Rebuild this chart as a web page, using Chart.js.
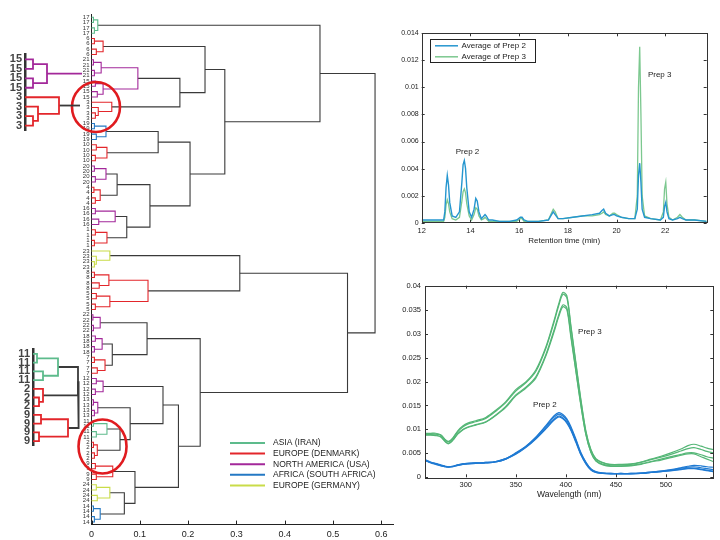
<!DOCTYPE html>
<html><head><meta charset="utf-8">
<script src="https://cdn.jsdelivr.net/npm/chart.js@4.4.1/dist/chart.umd.min.js"></script>
<style>
html,body{margin:0;padding:0;background:#fff;width:720px;height:540px;overflow:hidden}
body{position:relative}
canvas{position:absolute}
</style></head><body>
<canvas id="dendro" width="400" height="540" style="left:0px;top:0px"></canvas>
<canvas id="inset1" width="100" height="95" style="left:0px;top:45px"></canvas>
<canvas id="inset2" width="110" height="115" style="left:0px;top:340px"></canvas>
<canvas id="chrom" width="350" height="260" style="left:370px;top:0px"></canvas>
<canvas id="spec" width="350" height="270" style="left:370px;top:270px"></canvas>
<script>
// ---------------- DATA ----------------
const regionNames = ['ASIA (IRAN)','EUROPE (DENMARK)','NORTH AMERICA (USA)','AFRICA (SOUTH AFRICA)','EUROPE (GERMANY)'];
const regionColors = ['#5dbb8c','#e3262b','#a3289a','#2479c4','#c9dc48'];

// main dendrogram: sample groups top to bottom
const leafGroups  = ['17','6','21','15','3','19','10','20','4','16','1','23','8','5','22','18','7','12','13','11','2','9','24','14'];
const groupSizes  = [4,4,4,4,4,4,4,4,4,4,4,4,4,4,4,4,4,4,4,4,4,4,4,4];
const groupRegion = [0,1,2,2,1,3,1,2,1,2,1,4,1,1,2,2,1,2,2,0,1,1,4,3];
const groupShape  = ['P','P','P','P','C','P','P','P','P','P','P','C','P','P','P','P','P','P','P','P','P','P','P','P'];
const groupHeights = [
  [0.004,0.006,0.013],[0.006,0.010,0.024],[0.004,0.006,0.020],[0.008,0.012,0.024],
  [0.008,0.014,0.042],[0.006,0.010,0.030],[0.010,0.008,0.032],[0.006,0.008,0.030],
  [0.005,0.008,0.018],[0.008,0.015,0.049],[0.008,0.006,0.032],[0.006,0.010,0.038],
  [0.006,0.016,0.036],[0.010,0.008,0.038],[0.003,0.004,0.018],[0.008,0.006,0.022],
  [0.006,0.012,0.028],[0.010,0.008,0.024],[0.004,0.006,0.013],[0.004,0.010,0.032],
  [0.004,0.006,0.012],[0.008,0.010,0.044],[0.010,0.012,0.038],[0.004,0.006,0.018]
];
// higher-level merges: [child A, child B, height]; gN = group N, nN = merge N
const upperMerges = [
  ['g2','g3',0.096],  // n0
  ['n0','g4',0.183],  // n1
  ['g1','n1',0.235],  // n2
  ['g5','g6',0.138],  // n3
  ['g7','g8',0.053],  // n4
  ['g9','g10',0.073], // n5
  ['n4','n5',0.121],  // n6
  ['n3','n6',0.204],  // n7
  ['n2','n7',0.276],  // n8
  ['g0','n8',0.473],  // n9
  ['g12','g13',0.117],// n10
  ['g11','n10',0.307],// n11
  ['g15','g16',0.043],// n12
  ['g14','n12',0.115],// n13
  ['g19','g20',0.059],// n14
  ['g18','n14',0.080],// n15
  ['g22','g23',0.068],// n16
  ['g21','n16',0.090],// n17
  ['g17','n15',0.148],// n18
  ['n18','n17',0.180],// n19
  ['n13','n19',0.225],// n20
  ['n11','n20',0.530],// n21
  ['n9','n21',0.587]  // n22 root
];
const dendroXTicks = [0,0.1,0.2,0.3,0.4,0.5,0.6];

// inset 1 (groups 15 and 3)
const in1Groups = ['15','3'];
const in1Sizes = [4,4];
const in1Region = [2,1];
const in1Shape = ['P','C'];
const in1Heights = [[8,8,22],[8,13,34]];
const in1Stubs = [['g0',57,2],['g1',55,null]];
// inset 2 (groups 11, 2 and 9)
const in2Groups = ['11','2','9'];
const in2Sizes = [4,3,4];
const in2Region = [0,1,1];
const in2Shape = ['P','T','P'];
const in2Heights = [[4,10,25],[6,0,10],[8,6,35]];
const in2Upper = [['g0','g1',45],['n0','g2',45.6]];

// chromatogram
const rtTime = [12.0,12.5,12.9,12.95,13.0,13.05,13.1,13.15,13.25,13.4,13.55,13.65,13.7,13.75,13.8,13.85,13.95,14.05,14.15,14.22,14.28,14.35,14.45,14.55,14.6,14.65,14.75,14.9,15.2,15.6,15.9,16.05,16.12,16.2,16.35,16.8,17.2,17.3,17.4,17.48,17.6,17.8,18.2,18.6,19.0,19.3,19.4,19.47,19.55,19.7,19.85,19.92,20.0,20.2,20.5,20.75,20.85,20.9,20.95,21.0,21.05,21.15,21.4,21.8,21.92,21.97,22.02,22.07,22.15,22.3,22.5,22.6,22.7,22.85,23.2,23.7];
const prep2Avg = [0.0002,0.0002,0.0002,0.0008,0.0026,0.0035,0.0028,0.0015,0.0005,0.0004,0.0008,0.0030,0.0043,0.0046,0.0040,0.0026,0.0008,0.0004,0.0010,0.0018,0.0016,0.0008,0.0003,0.0005,0.0006,0.0005,0.0002,0.0002,0.0001,0.0001,0.0002,0.0004,0.0004,0.0002,0.0001,0.0001,0.0002,0.0005,0.0008,0.0006,0.0003,0.0003,0.0004,0.0005,0.0006,0.0007,0.0009,0.0010,0.0007,0.0005,0.0006,0.0006,0.0005,0.0004,0.0003,0.0003,0.0010,0.0035,0.0044,0.0030,0.0010,0.0004,0.0003,0.0002,0.0004,0.0012,0.0015,0.0008,0.0003,0.0002,0.0003,0.0004,0.0003,0.0002,0.0002,0.0001];
const prep3Avg = [0.0001,0.0001,0.0001,0.0004,0.0013,0.0017,0.0014,0.0008,0.0003,0.0002,0.0004,0.0016,0.0023,0.0025,0.0022,0.0014,0.0005,0.0002,0.0006,0.0011,0.0010,0.0005,0.0002,0.0003,0.0004,0.0003,0.0001,0.0001,0.0001,0.0001,0.0001,0.0003,0.0003,0.0001,0.0001,0.0001,0.0002,0.0006,0.0010,0.0008,0.0003,0.0003,0.0004,0.0005,0.0005,0.0006,0.0007,0.0008,0.0006,0.0005,0.0007,0.0007,0.0006,0.0004,0.0003,0.0003,0.0020,0.0100,0.0130,0.0080,0.0020,0.0005,0.0003,0.0002,0.0008,0.0025,0.0030,0.0014,0.0004,0.0002,0.0004,0.0006,0.0004,0.0002,0.0002,0.0001];
const rtXTicks = [12,14,16,18,20,22];
const rtYTicks = [0,0.002,0.004,0.006,0.008,0.01,0.012,0.014];

// spectra
const wavelength = [259,265,270,275,280,283,287,292,297,302,310,320,330,340,350,360,370,380,388,393,397,401,405,410,415,420,425,430,437,445,455,465,475,485,495,505,515,522,528,535,541,547];
const prep3a = [0.0092,0.0092,0.0092,0.0089,0.0078,0.0075,0.0082,0.0097,0.0107,0.0113,0.0118,0.0125,0.0140,0.0158,0.0183,0.0199,0.0224,0.0272,0.0326,0.0363,0.0386,0.0379,0.0318,0.0240,0.0163,0.0097,0.0058,0.0039,0.0031,0.0027,0.0027,0.0028,0.0032,0.0038,0.0044,0.0051,0.0059,0.0066,0.0069,0.0065,0.0061,0.0058];
const prep3b = [0.0091,0.0091,0.0090,0.0088,0.0077,0.0074,0.0081,0.0095,0.0105,0.0111,0.0116,0.0123,0.0138,0.0156,0.0180,0.0197,0.0221,0.0269,0.0322,0.0359,0.0382,0.0375,0.0314,0.0237,0.0160,0.0095,0.0057,0.0038,0.0030,0.0026,0.0026,0.0027,0.0031,0.0037,0.0042,0.0048,0.0055,0.0060,0.0062,0.0058,0.0054,0.0051];
const prep3c = [0.0089,0.0089,0.0088,0.0085,0.0074,0.0071,0.0078,0.0091,0.0100,0.0105,0.0110,0.0116,0.0130,0.0148,0.0172,0.0188,0.0210,0.0256,0.0306,0.0340,0.0360,0.0354,0.0297,0.0224,0.0152,0.0090,0.0053,0.0035,0.0027,0.0024,0.0024,0.0025,0.0028,0.0033,0.0038,0.0043,0.0048,0.0051,0.0051,0.0047,0.0043,0.0040];
const prep3d = [0.0088,0.0088,0.0087,0.0084,0.0073,0.0070,0.0077,0.0090,0.0099,0.0104,0.0109,0.0115,0.0129,0.0146,0.0170,0.0186,0.0207,0.0253,0.0302,0.0336,0.0356,0.0350,0.0293,0.0221,0.0150,0.0089,0.0052,0.0034,0.0026,0.0023,0.0023,0.0024,0.0027,0.0032,0.0036,0.0041,0.0046,0.0049,0.0049,0.0043,0.0038,0.0033];
const prep2a = [0.0037,0.0032,0.0029,0.0026,0.0023,0.0022,0.0023,0.0026,0.0028,0.0029,0.0030,0.0031,0.0033,0.0039,0.0051,0.0065,0.0084,0.0108,0.0128,0.0135,0.0131,0.0122,0.0106,0.0080,0.0052,0.0032,0.0018,0.0012,0.0009,0.0008,0.0008,0.0008,0.0009,0.0011,0.0013,0.0016,0.0020,0.0023,0.0025,0.0024,0.0022,0.0021];
const prep2b = [0.0036,0.0031,0.0028,0.0025,0.0022,0.0022,0.0023,0.0026,0.0028,0.0029,0.0030,0.0031,0.0033,0.0039,0.0050,0.0064,0.0083,0.0106,0.0125,0.0132,0.0128,0.0119,0.0103,0.0078,0.0050,0.0031,0.0017,0.0011,0.0009,0.0008,0.0008,0.0008,0.0009,0.0011,0.0013,0.0015,0.0019,0.0021,0.0022,0.0020,0.0018,0.0016];
const prep2c = [0.0036,0.0031,0.0028,0.0025,0.0022,0.0021,0.0022,0.0025,0.0027,0.0028,0.0029,0.0030,0.0032,0.0038,0.0049,0.0063,0.0081,0.0103,0.0121,0.0128,0.0124,0.0115,0.0100,0.0075,0.0048,0.0029,0.0016,0.0010,0.0008,0.0007,0.0007,0.0007,0.0008,0.0010,0.0012,0.0014,0.0017,0.0019,0.0019,0.0017,0.0015,0.0013];
const prep2d = [0.0035,0.0030,0.0027,0.0024,0.0022,0.0021,0.0022,0.0025,0.0027,0.0028,0.0029,0.0030,0.0032,0.0038,0.0048,0.0062,0.0080,0.0101,0.0119,0.0126,0.0122,0.0113,0.0098,0.0073,0.0047,0.0028,0.0015,0.0010,0.0008,0.0007,0.0007,0.0007,0.0008,0.0010,0.0012,0.0014,0.0016,0.0018,0.0018,0.0016,0.0014,0.0012];
const wlXTicks = [300,350,400,450,500];
const wlYTicks = [0,0.005,0.01,0.015,0.02,0.025,0.03,0.035,0.04];

// ---------------- HELPERS ----------------
const F = "'Liberation Sans', Arial, Helvetica, sans-serif";
const LINK = '#3a3a3a';
const SHAPES = {
  P: [[0,1,0],[2,3,1],[4,5,2]],
  C: [[2,3,0],[1,4,1],[0,5,2]],
  T: [[1,2,0],[0,3,2]]
};
function buildDendro(groups, sizes, regions, shapes, heights, upper, stubs) {
  const labels = [], segs = [], gNodes = [], uNodes = [];
  let leaf = 0;
  const merge = (a, b, h) => {
    const col = (a.col && a.col === b.col) ? a.col : null;
    segs.push({col: col || LINK, pts: [[a.h,a.y],[h,a.y],[h,b.y],[b.h,b.y]]});
    return {h, y: (a.y + b.y) / 2, col};
  };
  groups.forEach((lab, g) => {
    const col = regionColors[regions[g]];
    const nodes = [];
    for (let i = 0; i < sizes[g]; i++) { labels.push(lab); nodes.push({h:0, y:leaf++, col}); }
    SHAPES[shapes[g]].forEach(([a,b,k]) => nodes.push(merge(nodes[a], nodes[b], heights[g][k])));
    gNodes.push(nodes[nodes.length - 1]);
  });
  const ref = r => r[0] === 'g' ? gNodes[+r.slice(1)] : uNodes[+r.slice(1)];
  (upper || []).forEach(([a,b,h]) => uNodes.push(merge(ref(a), ref(b), h)));
  (stubs || []).forEach(([r,to,reg]) => { const n = ref(r); segs.push({col: reg === null ? LINK : regionColors[reg], pts: [[n.h,n.y],[to,n.y]]}); });
  return {labels, segs};
}
function segDatasets(segs, w) {
  return segs.map(s => ({data: s.pts.map(([x,y]) => ({x,y})), showLine:true, borderColor:s.col, borderWidth:w, pointRadius:0, fill:false, tension:0, clip:false}));
}
const setTicks = vals => s => { s.ticks = vals.map(v => ({value:v})); };
const fmt = v => String(+(+v).toFixed(5));

// MATLAB style box + inward ticks + notes + legend box
const matBox = {
  id: 'matbox',
  afterDraw(chart, args, o) {
    const {ctx, chartArea:a, scales:{x, y}} = chart;
    ctx.save();
    ctx.strokeStyle = '#333'; ctx.lineWidth = 1;
    if (o.box) {
      ctx.strokeRect(Math.round(a.left)+0.5, Math.round(a.top)+0.5, Math.round(a.right-a.left), Math.round(a.bottom-a.top));
    }
    const L = o.tickLen || 3;
    ctx.beginPath();
    x.ticks.forEach(t => {
      const p = Math.round(x.getPixelForValue(t.value)) + 0.5;
      ctx.moveTo(p, a.bottom); ctx.lineTo(p, a.bottom - L);
      if (o.box) { ctx.moveTo(p, a.top); ctx.lineTo(p, a.top + L); }
    });
    if (o.box) {
      y.ticks.forEach(t => {
        const p = Math.round(y.getPixelForValue(t.value)) + 0.5;
        ctx.moveTo(a.left, p); ctx.lineTo(a.left + L, p);
        ctx.moveTo(a.right, p); ctx.lineTo(a.right - L, p);
      });
    }
    ctx.stroke();
    ctx.fillStyle = '#222';
    (o.notes || []).forEach(n => {
      ctx.font = (n.size || 8) + 'px ' + F; ctx.textAlign = 'center'; ctx.textBaseline = 'middle';
      ctx.fillText(n.text, x.getPixelForValue(n.x), y.getPixelForValue(n.y));
    });
    if (o.legend) {
      const g = o.legend;
      const bx = a.left + g.dx, by = a.top + g.dy;
      ctx.fillStyle = '#fff';
      ctx.fillRect(bx, by, g.w, g.h);
      ctx.strokeStyle = '#222'; ctx.lineWidth = 1;
      ctx.strokeRect(Math.round(bx)+0.5, Math.round(by)+0.5, g.w, g.h);
      g.items.forEach((di, i) => {
        const ds = chart.data.datasets[di];
        const yy = by + g.row0 + i * g.rowH;
        ctx.strokeStyle = ds.borderColor; ctx.lineWidth = 1.5;
        ctx.beginPath(); ctx.moveTo(bx + 5, yy); ctx.lineTo(bx + 28, yy); ctx.stroke();
        ctx.fillStyle = '#222'; ctx.font = g.size + 'px ' + F; ctx.textAlign = 'left'; ctx.textBaseline = 'middle';
        ctx.fillText(ds.label, bx + 31.5, yy);
      });
    }
    ctx.restore();
  }
};

const dendroDeco = {
  id: 'dendrodeco',
  afterDraw(chart, args, o) {
    const {ctx, chartArea:a, scales:{x, y}} = chart;
    ctx.save();
    ctx.strokeStyle = '#222'; ctx.lineWidth = 1;
    ctx.beginPath();
    x.ticks.forEach(t => { const p = Math.round(x.getPixelForValue(t.value)) + 0.5; ctx.moveTo(p, a.bottom); ctx.lineTo(p, a.bottom - 4); });
    ctx.stroke();
    ctx.strokeStyle = '#e01b1f'; ctx.lineWidth = 2.6;
    o.circles.forEach(c => {
      ctx.beginPath();
      ctx.ellipse(x.getPixelForValue(c.x), y.getPixelForValue(c.y), c.rx, c.ry, 0, 0, Math.PI * 2);
      ctx.stroke();
    });
    regionNames.forEach((nm, i) => {
      const yy = o.legend.y + i * o.legend.dy;
      ctx.strokeStyle = regionColors[i]; ctx.lineWidth = 2;
      ctx.beginPath(); ctx.moveTo(o.legend.x, yy); ctx.lineTo(o.legend.x + 35, yy); ctx.stroke();
      ctx.fillStyle = '#222'; ctx.font = '8.5px ' + F; ctx.textAlign = 'left'; ctx.textBaseline = 'middle';
      ctx.fillText(nm, o.legend.x + 43, yy);
    });
    ctx.restore();
  }
};

const noInteract = {responsive:false, animation:false, events:[], plugins:{legend:{display:false}, tooltip:{enabled:false}}};

// ---------------- MAIN DENDROGRAM ----------------
const D = buildDendro(leafGroups, groupSizes, groupRegion, groupShape, groupHeights, upperMerges);
new Chart(document.getElementById('dendro'), {
  type: 'scatter',
  data: {datasets: segDatasets(D.segs, 1.1)},
  options: Object.assign({}, noInteract, {
    layout: {padding: {top: 14.6, right: 6.6, bottom: 0, left: 0}},
    plugins: {legend:{display:false}, tooltip:{enabled:false},
      dendrodeco: {
        circles: [{x:0.0093, y:16.9, rx:24, ry:25}, {x:0.0228, y:80.8, rx:24, ry:27}],
        legend: {x: 230, y: 443, dy: 10.6}
      }},
    scales: {
      x: {type:'linear', min:0, max:0.625, afterBuildTicks: setTicks(dendroXTicks),
          ticks:{font:{size:9, family:F}, color:'#222', padding:5, callback: fmt},
          grid:{display:false, drawTicks:false}, border:{display:true, color:'#222', width:1},
          afterFit: s => { s.height = 15.4; }},
      y: {type:'linear', reverse:true, min:-0.5, max:D.labels.length - 0.5,
          afterBuildTicks: s => { s.ticks = D.labels.map((_, i) => ({value:i})); },
          ticks:{autoSkip:false, font:{size:6, family:F}, color:'#333', padding:2, callback: v => D.labels[v]},
          grid:{display:false, drawTicks:false}, border:{display:true, color:'#222', width:1},
          afterFit: s => { s.width = 91.5; }}
    }
  }),
  plugins: [dendroDeco]
});

// ---------------- INSETS ----------------
function insetChart(id, built, pad, leftW, maxH) {
  new Chart(document.getElementById(id), {
    type: 'scatter',
    data: {datasets: segDatasets(built.segs, 1.8)},
    options: Object.assign({}, noInteract, {
      layout: {padding: pad},
      scales: {
        x: {type:'linear', min:0, max:maxH, display:false},
        y: {type:'linear', reverse:true, min:-0.5, max:built.labels.length - 0.5,
            afterBuildTicks: s => { s.ticks = built.labels.map((_, i) => ({value:i})); },
            ticks:{autoSkip:false, font:{size:11, family:F, weight:'bold'}, color:'#444', padding:3, callback: v => built.labels[v]},
            grid:{display:false, drawTicks:false}, border:{display:true, color:'#333', width:2.5},
            afterFit: s => { s.width = leftW; }}
      }
    })
  });
}
insetChart('inset1', buildDendro(in1Groups, in1Sizes, in1Region, in1Shape, in1Heights, [], in1Stubs), {top:8.1, right:15, bottom:9.1, left:0}, 25, 60);
insetChart('inset2', buildDendro(in2Groups, in2Sizes, in2Region, in2Shape, in2Heights, in2Upper), {top:8.4, right:17, bottom:6.4, left:0}, 33, 60);

// ---------------- CHROMATOGRAM ----------------
new Chart(document.getElementById('chrom'), {
  type: 'scatter',
  data: {datasets: [
    {label:'Average of Prep 2', data: rtTime.map((t,i)=>({x:t, y:prep2Avg[i]})), borderColor:'#2596cf', borderWidth:1.4, showLine:true, pointRadius:0, tension:0},
    {label:'Average of Prep 3', data: rtTime.map((t,i)=>({x:t, y:prep3Avg[i]})), borderColor:'#7cc88f', borderWidth:1.3, showLine:true, pointRadius:0, tension:0, order:1}
  ]},
  options: Object.assign({}, noInteract, {
    layout: {padding: {top:33.3, right:13.3, bottom:14.2, left:0}},
    plugins: {legend:{display:false}, tooltip:{enabled:false},
      matbox: {box:true, tickLen:3,
        notes: [{x:13.88, y:0.00525, text:'Prep 2'}, {x:21.77, y:0.0109, text:'Prep 3'}],
        legend: {dx:8.3, dy:6, w:105, h:23, row0:6.5, rowH:11, size:8, items:[0,1]}}},
    scales: {
      x: {type:'linear', min:12, max:23.7, afterBuildTicks: setTicks(rtXTicks),
          ticks:{font:{size:7.5, family:F}, color:'#222', padding:4, callback: fmt},
          grid:{display:false, drawTicks:false}, border:{display:false},
          title:{display:true, text:'Retention time (min)', font:{size:8, family:F}, color:'#222', padding:{top:0, bottom:0}},
          afterFit: s => { s.height = 23.1; }},
      y: {type:'linear', min:0, max:0.014, afterBuildTicks: setTicks(rtYTicks),
          ticks:{font:{size:7, family:F}, color:'#222', padding:3, callback: fmt},
          grid:{display:false, drawTicks:false}, border:{display:false},
          afterFit: s => { s.width = 51.7; }}
    }
  }),
  plugins: [matBox]
});

// ---------------- SPECTRA ----------------
const G3 = '#54b676', B2 = '#1f7ad3';
const specSets = [
  ['Prep 3', prep3a, G3], ['Prep 3', prep3b, G3], ['Prep 3', prep3c, G3], ['Prep 3', prep3d, G3],
  ['Prep 2', prep2a, B2], ['Prep 2', prep2b, B2], ['Prep 2', prep2c, B2], ['Prep 2', prep2d, B2]
];
new Chart(document.getElementById('spec'), {
  type: 'scatter',
  data: {datasets: specSets.map(([lab, vals, col]) => ({label: lab, data: wavelength.map((w,i)=>({x:w, y:vals[i]})), borderColor: col, borderWidth: 1.2, showLine:true, pointRadius:0, tension:0.3}))},
  options: Object.assign({}, noInteract, {
    layout: {padding: {top:15.7, right:6.7, bottom:39.9, left:0}},
    plugins: {legend:{display:false}, tooltip:{enabled:false},
      matbox: {box:true, tickLen:3,
        notes: [{x:424, y:0.0304, text:'Prep 3', size:8}, {x:379, y:0.0151, text:'Prep 2', size:8}]}},
    scales: {
      x: {type:'linear', min:259.3, max:547.3, afterBuildTicks: setTicks(wlXTicks),
          ticks:{font:{size:7.5, family:F}, color:'#222', padding:3, callback: fmt},
          grid:{display:false, drawTicks:false}, border:{display:false},
          title:{display:true, text:'Wavelength (nm)', font:{size:8.5, family:F}, color:'#222', padding:{top:0, bottom:0}},
          afterFit: s => { s.height = 22.8; }},
      y: {type:'linear', min:0, max:0.04, afterBuildTicks: setTicks(wlYTicks),
          ticks:{font:{size:7.5, family:F}, color:'#222', padding:4, callback: fmt},
          grid:{display:false, drawTicks:false}, border:{display:false},
          afterFit: s => { s.width = 55; }}
    }
  }),
  plugins: [matBox]
});
</script>
</body></html>
